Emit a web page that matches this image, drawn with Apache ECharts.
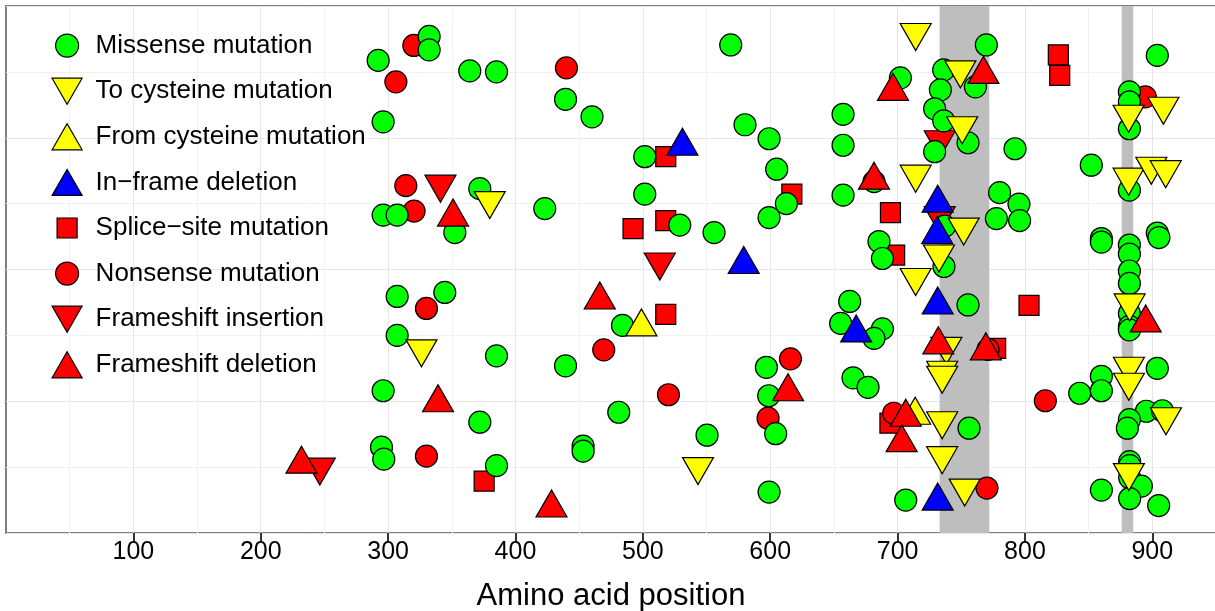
<!DOCTYPE html>
<html><head><meta charset="utf-8">
<script src="https://cdn.jsdelivr.net/npm/echarts@6/dist/echarts.min.js"></script>
<style>html,body{margin:0;padding:0;background:#fff}#c{width:1215px;height:611px}</style>
</head><body><div id="c"></div>
<script>
// x = amino acid position, y = vertical jitter (arbitrary units, 0..528)
var missenseX = [332.2,332.2,292.2,364.1,385.1,439.3,460.1,569.0,296.1,580.2,599.1,501.5,605.1,372.0,423.0,501.5,296.1,307.1,352.4,529.0,555.9,599.1,612.7,307.1,344.5,307.1,385.1,439.3,484.0,296.1,372.0,481.1,294.8,296.6,385.1,453.1,453.1,550.4,597.0,598.8,604.3,599.1,769.7,903.9,702.2,736.2,761.1,733.6,729.1,736.2,755.3,729.1,657.2,657.2,792.2,852.1,681.5,657.2,780.1,795.3,777.6,795.8,737.0,685.4,688.1,736.4,882.0,882.0,882.0,882.0,860.0,860.0,903.9,905.2,882.0,882.0,882.0,882.0,662.4,755.3,882.0,882.0,882.0,655.3,688.1,681.5,665.0,676.8,756.1,843.0,860.0,860.0,903.9,895.3,907.9,882.0,880.4,882.2,882.2,882.2,891.4,860.0,882.2,905.0,706.4];
var missenseY = [497.5,484,473.5,463,462,434.5,417,489,412,409,395,377,364.5,345,325,339.5,318.5,318.5,301,308.5,301,316,330,237,241,198,177.5,167.5,208,142.5,111,121,86,74,67.5,87,82,98,166,137.5,99.5,41,489,478.5,456,464,447,444,425,413,391,382,419.5,388.5,385,368.5,352,338.5,341,329.5,315,313,307.5,292,275,267,442,432,405,343.5,295,291.5,300.5,296,288.5,279.5,262.5,250,232,228.5,220,207,203.5,210,204.5,195,155.5,146,105,140,157,142.5,165,122,122.5,113.5,105,71.5,67.5,55.5,47,43,34.5,27.5,33];

var toCysX = [714.2,749.3,750.7,714.2,751.9,732.5,714.2,379.8,326.2,543.3,881.4,908.7,881.4,899.2,910.5,882.2,881.6,881.6,910.7,881.6,738.3,735.0,735.0,735.0,735.0,752.7];
var toCysY = [497,459.5,403.5,355,302,275,251.5,328.5,180,62,415,423,352,363,359.5,226,162.5,146.5,112,56,182.5,158.5,153.5,108,73,40.5];

var fromCysX = [498.9,713.8];
var fromCysY = [211,122.5];

var inFrameX = [531.1,579.2,731.5,731.1,731.5,667.5,731.5];
var inFrameY = [392,273.5,335,303.5,233,205,36.5];

var spliceX = [518.0,492.3,518.0,617.0,518.0,375.4,826.2,827.3,694.4,697.7,803.2,777.0,694.0];
var spliceY = [377,305,313,339.5,219,52,479,458.5,321,278.5,228,185,110];

var nonsenseX = [320.2,306.1,440.0,313.9,320.4,330.1,469.3,520.1,330.1,615.9,598.3,894.5,771.0,697.0,816.0,770.2];
var nonsenseY = [488.5,452,466,348,322.5,225,183.5,138.5,77,174.5,115,437,184,120,132.5,45];

var fsInsX = [341.1,513.3,246.4,733.1,733.1];
var fsInsY = [345,267,61.5,389.5,313.5];

var fsDelX = [351.0,466.2,339.2,232.0,428.3,614.0,696.4,767.4,681.5,732.0,769.3,706.4,703.2,894.8];
var fsDelY = [321,238,135,73.5,29.5,146,447,464,358,193,187,120.5,95,215];

var bandStart = [733, 876];
var bandEnd = [772, 885];
var xTicks = [100,200,300,400,500,600,700,800,900];

function pts(xs, ys){ return xs.map(function(x,i){ return [x, ys[i]]; }); }

var DOWN = 'path://M0,0L30,0L15,26Z';
var BOX = 'M0,0M31,27';
var legendIcons = {
  circle: 'path://' + BOX + 'M4,13.5A11.5,11.5,0,1,1,27,13.5A11.5,11.5,0,1,1,4,13.5Z',
  down: 'path://' + BOX + 'M0.5,0.5L30.5,0.5L15.5,26.5Z',
  up: 'path://' + BOX + 'M0.5,26.5L30.5,26.5L15.5,0.5Z',
  square: 'path://' + BOX + 'M5.5,3.5L25.5,3.5L25.5,23.5L5.5,23.5Z'
};

var border = {borderColor:'#000', borderWidth:1.2};
function ser(name, xs, ys, symbol, size, color){
  return {name:name, type:'scatter', data:pts(xs, ys), symbol:symbol, symbolSize:size,
    itemStyle:Object.assign({color:color, opacity:1}, border), z:3, silent:true};
}

var bands = bandStart.map(function(s,i){ return [{xAxis:s, yAxis:0},{xAxis:bandEnd[i], yAxis:528}]; });

var chart = echarts.init(document.getElementById('c'), null, {renderer:'canvas'});
chart.setOption({
  animation:false,
  backgroundColor:'#fff',
  textStyle:{fontFamily:'Liberation Sans, Arial, sans-serif'},
  grid:{left:6, top:6, width:1210, height:527, outerBoundsMode:'none', containLabel:false,
    show:true, borderColor:'#7f7f7f', borderWidth:2, backgroundColor:'transparent'},
  xAxis:{type:'value', min:0, max:950, interval:100,
    axisLine:{show:false},
    axisTick:{show:true, customValues:xTicks, length:9, lineStyle:{color:'#333', width:2}},
    axisLabel:{customValues:xTicks, fontSize:25, color:'#000', margin:7},
    splitLine:{show:true, lineStyle:{color:'#e6e6e6', width:1}},
    minorTick:{show:false, splitNumber:2},
    minorSplitLine:{show:true, lineStyle:{color:'#f2f2f2', width:1}},
    name:'Amino acid position', nameLocation:'middle', nameGap:48,
    nameTextStyle:{fontSize:31, color:'#000'}
  },
  yAxis:{type:'value', min:0, max:528, interval:132,
    axisLine:{show:false}, axisTick:{show:false}, axisLabel:{show:false},
    splitLine:{show:true, lineStyle:{color:'#e6e6e6', width:1}},
    minorTick:{show:false, splitNumber:2},
    minorSplitLine:{show:true, lineStyle:{color:'#f2f2f2', width:1}}
  },
  legend:{orient:'vertical', left:51, top:31.5, padding:0, itemWidth:31, itemHeight:27, itemGap:17.4,
    selectedMode:false,
    textStyle:{fontSize:26, color:'#000', lineHeight:27, height:27, padding:[0,0,0,8]},
    itemStyle:{borderColor:'#000', borderWidth:1.2},
    data:[
      {name:'Missense mutation', icon:legendIcons.circle},
      {name:'To cysteine mutation', icon:legendIcons.down},
      {name:'From cysteine mutation', icon:legendIcons.up},
      {name:'In\u2212frame deletion', icon:legendIcons.up},
      {name:'Splice\u2212site mutation', icon:legendIcons.square},
      {name:'Nonsense mutation', icon:legendIcons.circle},
      {name:'Frameshift insertion', icon:legendIcons.down},
      {name:'Frameshift deletion', icon:legendIcons.up}
    ]
  },
  series:[
    {type:'scatter', data:[], z:1, silent:true,
      markArea:{silent:true, itemStyle:{color:'#bebebe'}, data:bands}},
    ser('Frameshift insertion', fsInsX, fsInsY, DOWN, [31,27], '#ff0000'),
    ser('Splice\u2212site mutation', spliceX, spliceY, 'rect', 20, '#ff0000'),
    ser('Nonsense mutation', nonsenseX, nonsenseY, 'circle', 22, '#ff0000'),
    ser('Missense mutation', missenseX, missenseY, 'circle', 22, '#00ff00'),
    ser('From cysteine mutation', fromCysX, fromCysY, 'triangle', [31,27], '#ffff00'),
    ser('To cysteine mutation', toCysX, toCysY, DOWN, [31,27], '#ffff00'),
    ser('In\u2212frame deletion', inFrameX, inFrameY, 'triangle', [31,27], '#0000ff'),
    ser('Frameshift deletion', fsDelX, fsDelY, 'triangle', [31,27], '#ff0000')
  ]
});
</script></body></html>
